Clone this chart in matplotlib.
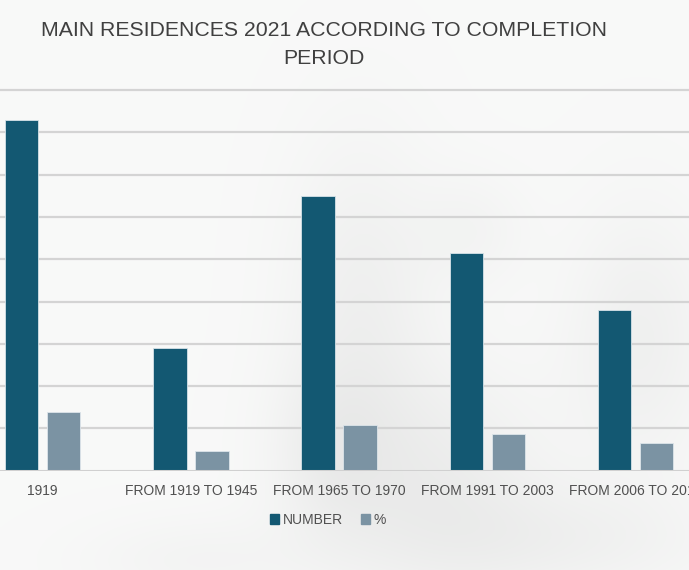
import numpy as np
import matplotlib
matplotlib.use("Agg")
import matplotlib.pyplot as plt
from matplotlib.patches import Patch

# Data
categories = ["1919", "FROM 1919 TO 1945", "FROM 1965 TO 1970",
              "FROM 1991 TO 2003", "FROM 2006 TO 2012"]
number_vals = [41.4, 14.5, 32.5, 25.7, 19.0]
percent_vals = [6.95, 2.35, 5.4, 4.3, 3.25]
series_names = ["NUMBER", "%"]

W, H, DPI = 689, 570, 100
plt.rcParams["font.family"] = ["Liberation Sans", "DejaVu Sans"]

fig = plt.figure(figsize=(W / DPI, H / DPI), dpi=DPI)
fig.patch.set_facecolor("#f8f8f8")

# Soft hazy backdrop
bg = fig.add_axes([0, 0, 1, 1], zorder=0)
yy, xx = np.mgrid[0:H, 0:W]
img = np.full((H, W), 0.975)
blobs = [(360, 300, 50, 110, 0.035), (430, 480, 80, 80, 0.045),
         (330, 450, 40, 60, 0.03), (640, 340, 50, 90, 0.035),
         (560, 540, 110, 40, 0.03), (200, 560, 80, 30, 0.02),
         (470, 230, 40, 40, 0.02)]
for cx, cy, sx, sy, a in blobs:
    img -= a * np.exp(-(((xx - cx) / sx) ** 2 + ((yy - cy) / sy) ** 2) / 2)
bg.imshow(np.dstack([img, img * 1.002, img]).clip(0, 1), aspect="auto",
          extent=[0, W, H, 0], interpolation="bicubic")
bg.axis("off")

# Plot area
base_px = 470.7
top_px = 90.0
x0_px = 42.5
cat_px = 148.3
ax = fig.add_axes([0, (H - base_px) / H, 1, (base_px - top_px + 2) / H], zorder=1)
ax.patch.set_alpha(0)
grid_step = 5
ax.set_ylim(0, 9 * grid_step * (base_px - top_px + 2) / (base_px - top_px))
ax.set_xlim(-x0_px / cat_px, (W - x0_px) / cat_px)

x = np.arange(len(categories))
bw = 33.5 / cat_px
off = 21.0 / cat_px
ax.bar(x - off, number_vals, bw, color="#135872", edgecolor="#d6e2e8",
       linewidth=0.6, zorder=3, label=series_names[0])
ax.bar(x + off, percent_vals, bw, color="#7b93a3", edgecolor="#dde5ea",
       linewidth=0.6, zorder=3, label=series_names[1])

for k in range(1, 10):
    ax.axhline(k * grid_step, color="#d4d4d4", lw=1.6, zorder=1)
ax.axhline(0, color="#d0d0d0", lw=2.2, zorder=4)

for s in ax.spines.values():
    s.set_visible(False)
ax.set_yticks([])
ax.set_xticks(x)
ax.set_xticklabels(categories, fontsize=10, color="#505050")
ax.tick_params(axis="x", length=0, pad=9.5)

fig.text(324 / W, 1 - 31 / H, "MAIN RESIDENCES 2021 ACCORDING TO COMPLETION",
         ha="center", va="center", fontsize=15.3, color="#404040")
fig.text(324 / W, 1 - 58 / H, "PERIOD", ha="center", va="center",
         fontsize=15.3, color="#404040")

handles = [Patch(color="#135872"), Patch(color="#7b93a3")]
fig.legend(handles, series_names, loc="center", bbox_to_anchor=(328 / W, 1 - 520 / H),
           ncol=2, frameon=False, fontsize=10, handlelength=0.65, handleheight=0.65,
           handletextpad=0.25, columnspacing=1.3, labelcolor="#505050")

fig.savefig("out.png", dpi=DPI, facecolor=fig.get_facecolor())
